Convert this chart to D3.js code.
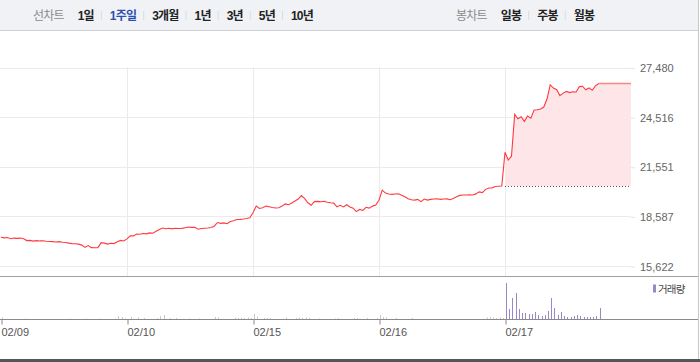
<!DOCTYPE html>
<html>
<head>
<meta charset="utf-8">
<script src="https://cdn.jsdelivr.net/npm/d3@7"></script>
<style>
  body { margin: 0; background: #fff; }
  svg { display: block; font-family: "Liberation Sans", "Noto Sans CJK KR", sans-serif; }
</style>
</head>
<body>
<div id="chart"></div>
<script>
// 10-minute points, 39 per trading day
const days = ["02/09", "02/10", "02/15", "02/16", "02/17"];
const perDay = 39;
const prevClose = 20400;
const yTicks = [15622, 18587, 21551, 24516, 27480];

const price0209 = [17340, 17300, 17320, 17250, 17290, 17270, 17290, 17250, 17140, 17150,
  17110, 17140, 17120, 17130, 17100, 17090, 17080, 17060, 17080, 17040,
  17030, 16990, 16960, 16950, 16930, 16870, 16730, 16840, 16720, 16710,
  16720, 17020, 16990, 16930, 16980, 16960, 17070, 17150, 17120];
const price0210 = [17240, 17430, 17420, 17530, 17520, 17560, 17540, 17600, 17580, 17700,
  17800, 17890, 17850, 17880, 17840, 17880, 17860, 17870, 17910, 17950,
  17930, 17930, 17820, 17860, 17880, 17890, 17920, 18000, 18220, 18170,
  18200, 18150, 18280, 18320, 18400, 18410, 18430, 18460, 18500];
const price0215 = [18800, 19200, 19060, 19100, 19200, 19160, 19120, 19090, 19100, 19200,
  19330, 19280, 19380, 19500, 19620, 19830, 19650, 19400, 19250, 19470,
  19480, 19460, 19490, 19430, 19400, 19380, 19160, 19250, 19150, 19280,
  19150, 19080, 18870, 19000, 18940, 19130, 19080, 19200, 19260];
const price0216 = [19550, 20150, 19980, 19920, 19900, 19920, 19940, 19850, 19760, 19640,
  19580, 19560, 19600, 19470, 19620, 19560, 19600, 19620, 19640, 19600,
  19620, 19630, 19580, 19660, 19760, 19840, 19860, 19860, 19870, 19860,
  19930, 20050, 20010, 20200, 20280, 20290, 20370, 20390, 20400];
const price0217 = [22420, 21950, 22180, 24680, 24420, 24540, 24260, 24580, 24450, 24940,
  24960, 25000, 25120, 25600, 26450, 26250, 26150, 25800, 25950, 26050,
  25980, 26030, 26020, 26340, 26360, 26150, 26260, 26120, 26380, 26520];

// volume, thousand shares
const vol0209 = [15, 0, 0, 0, 0, 0, 0, 5, 0, 0, 0, 0, 0, 0, 0, 0, 0, 0, 0, 0,
  0, 5, 0, 0, 0, 0, 5, 0, 0, 0, 5, 0, 0, 0, 0, 5, 30, 20, 5];
const vol0210 = [0, 20, 0, 15, 0, 10, 0, 0, 0, 10, 30, 40, 0, 10, 0, 10, 0, 0, 0, 5,
  0, 0, 5, 0, 0, 0, 0, 20, 15, 0, 0, 0, 0, 15, 10, 15, 10, 15, 10];
const vol0215 = [50, 25, 0, 10, 10, 10, 0, 0, 0, 0, 15, 0, 0, 10, 15, 10, 15, 10, 0, 0,
  5, 0, 0, 0, 0, 5, 10, 0, 0, 0, 0, 10, 10, 0, 0, 10, 0, 0, 10];
const vol0216 = [40, 20, 15, 0, 0, 10, 0, 0, 0, 0, 10, 0, 0, 0, 0, 0, 0, 0, 0, 0,
  0, 0, 0, 0, 0, 0, 0, 0, 0, 0, 0, 0, 0, 15, 20, 15, 10, 15, 10];
const vol0217 = [360, 100, 210, 260, 100, 60, 60, 50, 50, 70, 40, 30, 40, 80, 210,
  110, 40, 70, 30, 20, 20, 30, 40, 30, 20, 20, 20, 20, 30, 110];

const lineTabs = ["1일", "1주일", "3개월", "1년", "3년", "5년", "10년"];
const candleTabs = ["일봉", "주봉", "월봉"];
const selectedTab = "1주일";

function init() {
    let width = 700;
    let height = 362;
    let plotRight = 631;

    let svg = d3.select("#chart")
        .append("svg")
        .attr("width", width)
        .attr("height", height);

    let priceDays = [price0209, price0210, price0215, price0216, price0217];
    let volDays = [vol0209, vol0210, vol0215, vol0216, vol0217];
    let series = [];
    priceDays.forEach(function (arr, d) {
        arr.forEach(function (v, i) {
            series.push({ x: d * perDay + i, y: v, vol: volDays[d][i], day: d });
        });
    });
    let last = series[series.length - 1];
    let todayStart = 4 * perDay;

    let xScale = d3.scaleLinear().domain([0, days.length * perDay]).range([1, plotRight]);
    let yScale = d3.scaleLinear().domain([yTicks[0], yTicks[yTicks.length - 1]]).range([266, 67.5]);
    let vScale = d3.scaleLinear().domain([0, 400]).range([319, 279]);

    // header bar
    svg.append("rect").attr("x", 0).attr("y", 0).attr("width", 698).attr("height", 30)
        .attr("fill", "#f1f2f6");
    svg.append("line").attr("x1", 0).attr("x2", 698).attr("y1", 30.5).attr("y2", 30.5)
        .attr("stroke", "#cfd0d5");

    function menu(title, tabs, startX) {
        let g = svg.append("g").attr("font-size", 12).attr("letter-spacing", -0.8);
        let t = g.append("text").attr("x", startX).attr("y", 19.5)
            .attr("fill", "#8a8a8a").text(title);
        let x = startX + t.node().getComputedTextLength() + 14;
        tabs.forEach(function (name, i) {
            if (i > 0) {
                g.append("line").attr("x1", x - 8.5).attr("x2", x - 8.5)
                    .attr("y1", 11).attr("y2", 20).attr("stroke", "#dcdcdc");
            }
            let tt = g.append("text").attr("x", x).attr("y", 19.5)
                .attr("font-weight", "bold")
                .attr("fill", name == selectedTab ? "#2c4fae" : "#222")
                .text(name);
            x += tt.node().getComputedTextLength() + 16;
        });
    }
    menu("선차트", lineTabs, 33);
    menu("봉차트", candleTabs, 456);

    // grid
    svg.append("g").selectAll("line").data(yTicks).enter().append("line")
        .attr("x1", 0).attr("x2", plotRight)
        .attr("y1", d => Math.round(yScale(d)) + 0.5).attr("y2", d => Math.round(yScale(d)) + 0.5)
        .attr("stroke", "#ebebeb");
    svg.append("g").selectAll("line").data(d3.range(1, days.length)).enter().append("line")
        .attr("x1", d => Math.round(xScale(d * perDay)) + 0.5)
        .attr("x2", d => Math.round(xScale(d * perDay)) + 0.5)
        .attr("y1", 67).attr("y2", 276)
        .attr("stroke", "#ebebeb");

    // y axis labels
    let yAxis = svg.append("g")
        .attr("transform", "translate(" + plotRight + ",0.5)")
        .call(d3.axisRight(yScale).tickValues(yTicks).tickSize(4).tickPadding(5)
            .tickFormat(d3.format(",")));
    yAxis.select(".domain").remove();
    yAxis.selectAll("line").attr("stroke", "#e3e3e3");
    yAxis.selectAll("text").attr("fill", "#666").attr("font-size", 11)
        .attr("font-family", "Liberation Sans");

    // today's area above previous close
    let today = series.filter(d => d.x >= todayStart);
    let areaData = today.concat([{ x: days.length * perDay, y: last.y }]);
    svg.append("path")
        .datum(areaData)
        .attr("fill", "#fde5e8")
        .attr("d", d3.area().x(d => xScale(d.x)).y0(yScale(prevClose)).y1(d => yScale(d.y)));

    svg.append("line")
        .attr("x1", xScale(todayStart)).attr("x2", plotRight)
        .attr("y1", Math.round(yScale(prevClose)) + 0.5).attr("y2", Math.round(yScale(prevClose)) + 0.5)
        .attr("stroke", "#555").attr("stroke-dasharray", "1,2");

    // flat extension of last price
    svg.append("line")
        .attr("x1", xScale(last.x)).attr("x2", plotRight)
        .attr("y1", yScale(last.y)).attr("y2", yScale(last.y))
        .attr("stroke", "#ff8585").attr("stroke-width", 1.6);

    svg.append("path")
        .datum(series)
        .attr("fill", "none")
        .attr("stroke", "#ff3a3f")
        .attr("stroke-width", 1.1)
        .attr("d", d3.line().x(d => xScale(d.x)).y(d => yScale(d.y)));

    // panel separators
    svg.append("line").attr("x1", 0).attr("x2", 698).attr("y1", 276.5).attr("y2", 276.5)
        .attr("stroke", "#a0a0a0");

    // volume bars
    svg.append("g").selectAll("rect").data(series.filter(d => d.vol > 0)).enter().append("rect")
        .attr("x", d => Math.round(xScale(d.x)) + 1)
        .attr("width", 1)
        .attr("y", d => vScale(d.vol))
        .attr("height", d => 319 - vScale(d.vol))
        .attr("fill", d => d.day == 4 ? "#9a86c8" : "#c9c9c9");

    svg.append("line").attr("x1", 0).attr("x2", 698).attr("y1", 319.5).attr("y2", 319.5)
        .attr("stroke", "#8a8a8a");

    // x axis
    let xAxis = svg.append("g")
        .attr("transform", "translate(0.5,319.5)")
        .call(d3.axisBottom(xScale).tickValues(d3.range(days.length).map(d => d * perDay))
            .tickSize(5).tickPadding(4)
            .tickFormat((d, i) => days[i]));
    xAxis.select(".domain").remove();
    xAxis.selectAll("line").attr("stroke", "#8a8a8a");
    xAxis.selectAll("text").attr("fill", "#555").attr("font-size", 11)
        .attr("text-anchor", "start").attr("x", -0.5);

    // legend
    svg.append("rect").attr("x", 653).attr("y", 284.5).attr("width", 3).attr("height", 8)
        .attr("fill", "#9a86c8");
    svg.append("text").attr("x", 658).attr("y", 292.5).attr("font-size", 10.5)
        .attr("letter-spacing", -0.8).attr("fill", "#444").text("거래량");

    // frame
    svg.append("line").attr("x1", 698.5).attr("x2", 698.5).attr("y1", 0).attr("y2", 362)
        .attr("stroke", "#c8c8c8");
    svg.append("rect").attr("x", 0).attr("y", 359).attr("width", 700).attr("height", 3)
        .attr("fill", "#555");
}

window.addEventListener('load', init);
</script>
</body>
</html>
